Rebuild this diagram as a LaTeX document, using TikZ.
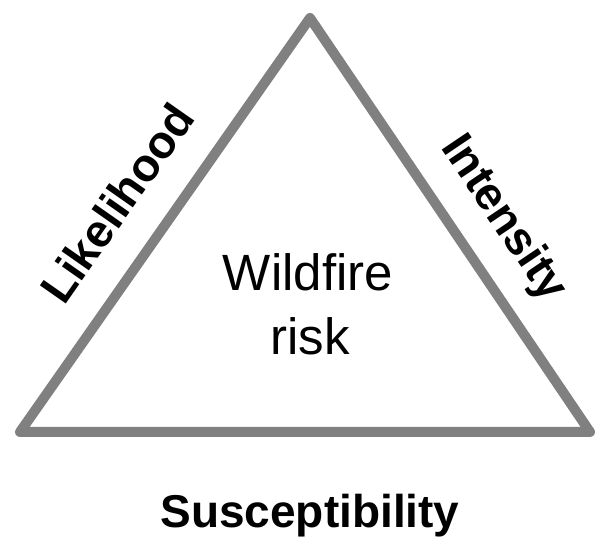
\documentclass[tikz,border=0pt]{standalone}
\usepackage{fontspec}
\setmainfont{Liberation Sans}
\usepackage{tikz}
\definecolor{edgegray}{RGB}{128,128,128}
\tikzstyle{side}=[draw=edgegray, line width=10pt, line join=round]
\tikzstyle{factor}=[font=\fontsize{46}{55}\selectfont\bfseries, inner sep=0pt]
\tikzstyle{core}=[font=\fontsize{51}{63}\selectfont, inner sep=0pt, anchor=base]

\begin{document}
\begin{tikzpicture}[x=1pt,y=1pt]
                    \useasboundingbox (0,0) rectangle (597,541);
                    \coordinate (c1) at (20,109);
                    \coordinate (c2) at (310,523);
                    \coordinate (c3) at (590,109);
                    \draw[side] (c1) -- (c2) -- (c3) -- cycle;
                    \node[core] (w1) at (308,250) {Wildfire};
                    \node[core] (w2) at (310,186) {risk};
                    \node[factor, rotate=55] (f1) at (117,338) {Likelihood};
                    \node[factor, rotate=-56] (f2) at (503,322) {Intensity};
                    \node[factor, anchor=base] (f3) at (310,14) {Susceptibility};
                \end{tikzpicture}
\end{document}
